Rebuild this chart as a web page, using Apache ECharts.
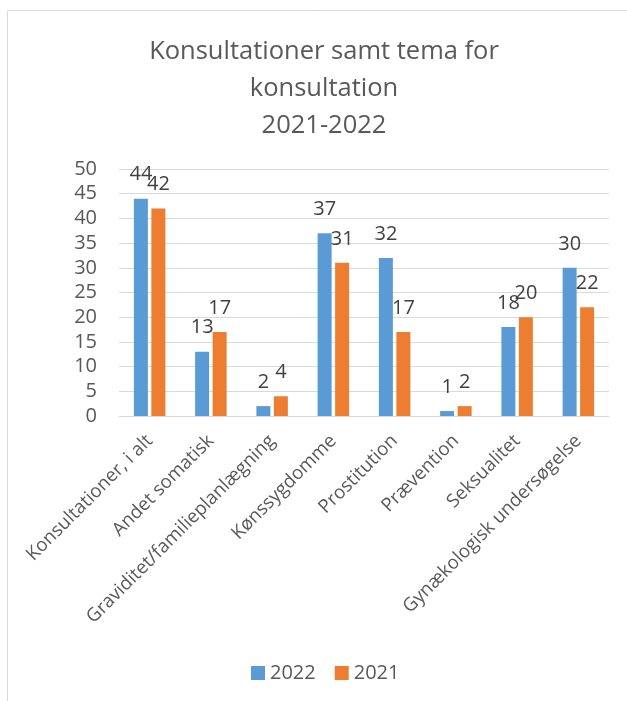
<!DOCTYPE html>
<html>
<head>
<meta charset="utf-8">
<script src="https://cdn.jsdelivr.net/npm/echarts@6/dist/echarts.min.js"></script>
<style>
html,body{margin:0;padding:0;background:#fff;}
#c{width:627px;height:701px;}
</style>
</head>
<body>
<div id="c"></div>
<script>
const categories = ["Konsultationer, i alt","Andet somatisk","Graviditet/familieplanlægning","Kønssygdomme","Prostitution","Prævention","Seksualitet","Gynækologisk undersøgelse"];
const values2022 = [44,13,2,37,32,1,18,30];
const values2021 = [42,17,4,31,17,2,20,22];
const yTicks = {min:0, max:50, interval:5};
const titleText = "Konsultationer samt tema for\nkonsultation\n2021-2022";

const FONT = "'Open Sans', sans-serif";
const chart = echarts.init(document.getElementById('c'));
chart.setOption({
  animation:false,
  backgroundColor:'#fff',
  title:{
    text:titleText, left:319, top:28, textAlign:'center',
    textStyle:{fontFamily:FONT, fontSize:25.5, fontWeight:'normal', color:'#595959', lineHeight:37}
  },
  graphic:[{type:'rect', shape:{x:7.5,y:10.5,width:800,height:800}, style:{fill:'none', stroke:'#d9d9d9', lineWidth:1}, silent:true, z:-1}],
  grid:{left:119, right:18, top:169, bottom:285},
  legend:{
    data:['2022','2021'], left:246, top:658, itemWidth:14, itemHeight:14, itemGap:19,
    icon:'rect',
    textStyle:{fontFamily:FONT, fontSize:20, color:'#595959'}
  },
  xAxis:{
    type:'category', data:categories,
    axisLine:{lineStyle:{color:'#d9d9d9'}}, axisTick:{show:false},
    axisLabel:{rotate:45, interval:0, margin:22, padding:[12,0,0,0], fontFamily:FONT, fontSize:18.7, color:'#595959'}
  },
  yAxis:{
    type:'value', min:yTicks.min, max:yTicks.max, interval:yTicks.interval,
    axisLine:{show:false}, axisTick:{show:false},
    splitLine:{lineStyle:{color:'#d9d9d9', width:1}},
    axisLabel:{margin:22, fontFamily:FONT, fontSize:20, color:'#595959'}
  },
  series:[
    {name:'2022', type:'bar', data:values2022, barWidth:14, barGap:'25%', itemStyle:{color:'#5b9bd5'},
     label:{show:true, position:'top', distance:14, fontFamily:FONT, fontSize:20, color:'#404040'}},
    {name:'2021', type:'bar', data:values2021, barWidth:14, barGap:'25%', itemStyle:{color:'#ed7d31'},
     label:{show:true, position:'top', distance:14, fontFamily:FONT, fontSize:20, color:'#404040'}}
  ]
});
</script>
</body>
</html>
